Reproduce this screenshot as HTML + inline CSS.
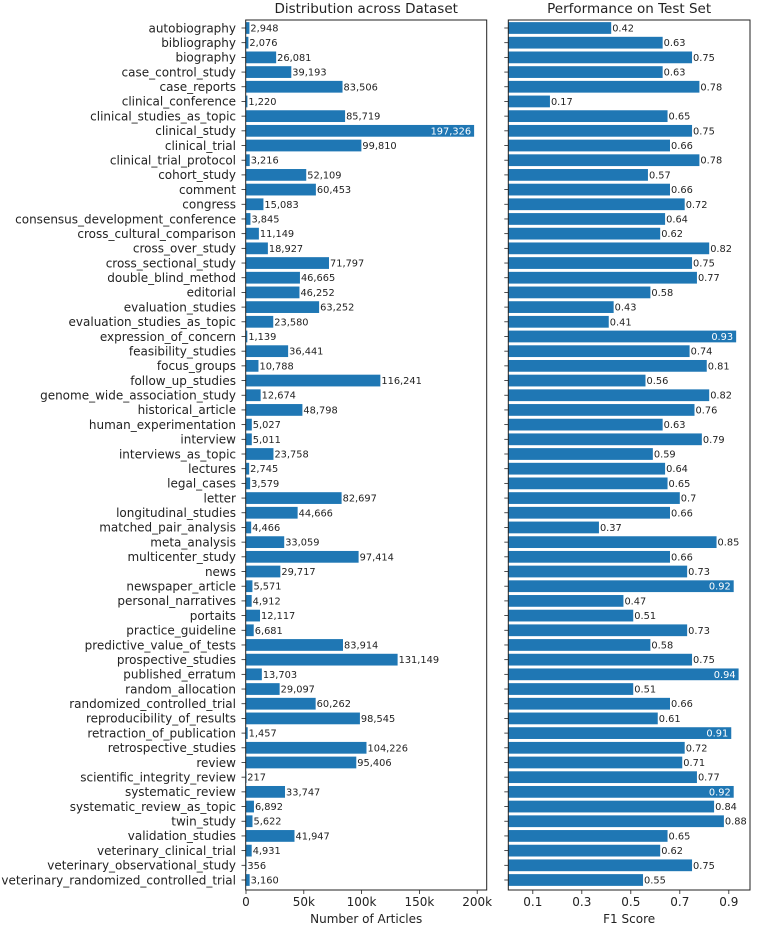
<!DOCTYPE html>
<html><head><meta charset="utf-8"><style>
body{margin:0;background:#fff}
svg{display:block;font-family:"DejaVu Sans","Liberation Sans",sans-serif}
</style></head><body>
<svg id="chart" width="758" height="926"></svg>
<script>
const categories=["autobiography","bibliography","biography","case_control_study","case_reports","clinical_conference","clinical_studies_as_topic","clinical_study","clinical_trial","clinical_trial_protocol","cohort_study","comment","congress","consensus_development_conference","cross_cultural_comparison","cross_over_study","cross_sectional_study","double_blind_method","editorial","evaluation_studies","evaluation_studies_as_topic","expression_of_concern","feasibility_studies","focus_groups","follow_up_studies","genome_wide_association_study","historical_article","human_experimentation","interview","interviews_as_topic","lectures","legal_cases","letter","longitudinal_studies","matched_pair_analysis","meta_analysis","multicenter_study","news","newspaper_article","personal_narratives","portaits","practice_guideline","predictive_value_of_tests","prospective_studies","published_erratum","random_allocation","randomized_controlled_trial","reproducibility_of_results","retraction_of_publication","retrospective_studies","review","scientific_integrity_review","systematic_review","systematic_review_as_topic","twin_study","validation_studies","veterinary_clinical_trial","veterinary_observational_study","veterinary_randomized_controlled_trial"];
const counts=[2948,2076,26081,39193,83506,1220,85719,197326,99810,3216,52109,60453,15083,3845,11149,18927,71797,46665,46252,63252,23580,1139,36441,10788,116241,12674,48798,5027,5011,23758,2745,3579,82697,44666,4466,33059,97414,29717,5571,4912,12117,6681,83914,131149,13703,29097,60262,98545,1457,104226,95406,217,33747,6892,5622,41947,4931,356,3160];
const f1=[0.42,0.63,0.75,0.63,0.78,0.17,0.65,0.75,0.66,0.78,0.57,0.66,0.72,0.64,0.62,0.82,0.75,0.77,0.58,0.43,0.41,0.93,0.74,0.81,0.56,0.82,0.76,0.63,0.79,0.59,0.64,0.65,0.7,0.66,0.37,0.85,0.66,0.73,0.92,0.47,0.51,0.73,0.58,0.75,0.94,0.51,0.66,0.61,0.91,0.72,0.71,0.77,0.92,0.84,0.88,0.65,0.62,0.75,0.55];
const leftTicks=[0,50000,100000,150000,200000];
const leftTickLabels=["0","50k","100k","150k","200k"];
const rightTicks=[0.1,0.3,0.5,0.7,0.9];
const rightTickLabels=["0.1","0.3","0.5","0.7","0.9"];

(function(){
const NS="http://www.w3.org/2000/svg";
const svg=document.getElementById('chart');
function mk(t,a,p){const e=document.createElementNS(NS,t);for(const k in a)e.setAttribute(k,a[k]);(p||svg).appendChild(e);return e;}
const yTop=20,yBot=890,nCat=categories.length;
const step=(880-28)/(nCat-1);
const yC=i=>28+step*i;
const bh=step*0.8;
const xL=v=>246+v*231.2/200000;
const xR=v=>508.3+v*245;
const L0=245.7,L1=486.7,R0=508.3,R1=750;

const gl=mk('g',{});


const tl=mk('text',{x:(L0+L1)/2,y:13,'text-anchor':'middle','font-size':13.5,fill:'#222'},gl);
tl.textContent="Distribution across Dataset";


categories.forEach((c,i)=>{
  const y=yC(i);
  const lab=mk('text',{x:236,y:y+4.3,'text-anchor':'end','font-size':12,fill:'#222'},gl);
  lab.textContent=c;
  
  
  mk('line',{x1:241.5,x2:L0,y1:y,y2:y,stroke:'#222','stroke-width':0.8},gl);
  const w=Math.max(xL(counts[i])-xL(0),0.5);
  const r=mk('rect',{x:xL(0),y:y-bh/2,width:w,height:bh,fill:'#1f77b4'},gl);
  
  
  const s=counts[i].toLocaleString('en-US');
  const inside=counts[i]>180000;
  const t=mk('text',{x:inside?xL(counts[i])-3:xL(counts[i])+1,y:y+3.5,'text-anchor':inside?'end':'start','font-size':9.8,fill:inside?'#fff':'#222'},gl);
  t.textContent=s;
  
  
});
mk('rect',{x:L0,y:yTop,width:L1-L0,height:yBot-yTop,fill:'none',stroke:'#222','stroke-width':1},gl);
leftTicks.forEach((v,i)=>{
  const x=xL(v);
  mk('line',{x1:x,x2:x,y1:yBot,y2:yBot+4,stroke:'#222','stroke-width':0.8},gl);
  const t=mk('text',{x:x,y:yBot+16,'text-anchor':'middle','font-size':12,fill:'#222'},gl);
  t.textContent=leftTickLabels[i];
  
  
});
const xl=mk('text',{x:(L0+L1)/2,y:923,'text-anchor':'middle','font-size':12,fill:'#222'},gl);
xl.textContent="Number of Articles";



const gr=mk('g',{});


const tr=mk('text',{x:(R0+R1)/2,y:13,'text-anchor':'middle','font-size':13.5,fill:'#222'},gr);
tr.textContent="Performance on Test Set";


f1.forEach((v,i)=>{
  const y=yC(i);
  mk('line',{x1:R0-4,x2:R0,y1:y,y2:y,stroke:'#222','stroke-width':0.8},gr);
  const r=mk('rect',{x:xR(0),y:y-bh/2,width:xR(v)-xR(0),height:bh,fill:'#1f77b4'},gr);
  
  
  const inside=v>0.9;
  const t=mk('text',{x:inside?xR(v)-3:xR(v)+1,y:y+3.5,'text-anchor':inside?'end':'start','font-size':9.8,fill:inside?'#fff':'#222'},gr);
  t.textContent=String(v);
  
  
});
mk('rect',{x:R0,y:yTop,width:R1-R0,height:yBot-yTop,fill:'none',stroke:'#222','stroke-width':1},gr);
rightTicks.forEach((v,i)=>{
  const x=xR(v);
  mk('line',{x1:x,x2:x,y1:yBot,y2:yBot+4,stroke:'#222','stroke-width':0.8},gr);
  const t=mk('text',{x:x,y:yBot+16,'text-anchor':'middle','font-size':12,fill:'#222'},gr);
  t.textContent=rightTickLabels[i];
  
  
});
const xr=mk('text',{x:(R0+R1)/2,y:923,'text-anchor':'middle','font-size':12,fill:'#222'},gr);
xr.textContent="F1 Score";


})();
</script>
</body></html>
